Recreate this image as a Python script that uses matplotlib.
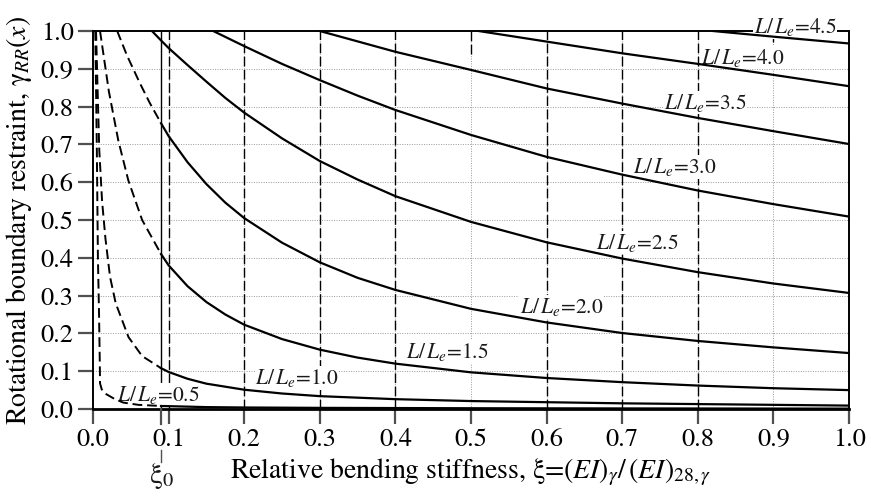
import matplotlib
matplotlib.use("Agg")
import matplotlib.pyplot as plt

# ---- data ----
xi0 = 0.09
ratios = ["0.5", "1.0", "1.5", "2.0", "2.5", "3.0", "3.5", "4.0", "4.5"]

r05_dash_x = [0.003, 0.005, 0.0065, 0.008, 0.009, 0.0093, 0.0115, 0.016, 0.029, 0.040, 0.060, 0.090]
r05_dash_y = [1.00, 0.70, 0.40, 0.25, 0.12, 0.068, 0.052, 0.041, 0.026, 0.017, 0.011, 0.008]
r05_x = [0.09, 0.15, 0.2, 0.3, 0.5, 0.7, 1.0]
r05_y = [0.008, 0.005, 0.004, 0.003, 0.002, 0.0015, 0.001]

r10_dash_x = [0.004, 0.006, 0.0083, 0.012, 0.0165, 0.0225, 0.030, 0.047, 0.065, 0.090]
r10_dash_y = [1.00, 0.85, 0.685, 0.55, 0.45, 0.35, 0.28, 0.19, 0.14, 0.108]
r10_x = [0.09, 0.1, 0.125, 0.15, 0.2, 0.25, 0.3, 0.4, 0.5, 0.6, 0.7, 0.8, 0.9, 1.0]
r10_y = [0.108, 0.098, 0.080, 0.067, 0.051, 0.041, 0.034, 0.026, 0.021, 0.018, 0.015, 0.013, 0.011, 0.009]

r15_dash_x = [0.0093, 0.021, 0.0335, 0.0467, 0.065, 0.09]
r15_dash_y = [1.00, 0.84, 0.71, 0.605, 0.50, 0.41]
r15_x = [0.09, 0.1, 0.125, 0.15, 0.175, 0.2, 0.25, 0.3, 0.35, 0.4, 0.5, 0.6, 0.7, 0.8, 0.9, 1.0]
r15_y = [0.41, 0.38, 0.325, 0.283, 0.250, 0.223, 0.185, 0.157, 0.136, 0.120, 0.097, 0.082, 0.071, 0.062, 0.055, 0.050]

r20_dash_x = [0.032, 0.045, 0.062, 0.075, 0.09]
r20_dash_y = [1.00, 0.935, 0.862, 0.81, 0.756]
r20_x = [0.09, 0.1, 0.125, 0.15, 0.175, 0.2, 0.25, 0.3, 0.35, 0.4, 0.5, 0.6, 0.7, 0.8, 0.9, 1.0]
r20_y = [0.756, 0.722, 0.653, 0.595, 0.546, 0.505, 0.440, 0.388, 0.347, 0.315, 0.265, 0.229, 0.201, 0.180, 0.163, 0.148]

r25_x = [0.078, 0.09, 0.1, 0.125, 0.15, 0.175, 0.2, 0.25, 0.3, 0.35, 0.4, 0.5, 0.6, 0.7, 0.8, 0.9, 1.0]
r25_y = [1.00, 0.975, 0.955, 0.910, 0.866, 0.823, 0.784, 0.716, 0.656, 0.607, 0.563, 0.495, 0.441, 0.398, 0.362, 0.332, 0.307]

r30_x = [0.159, 0.2, 0.25, 0.3, 0.35, 0.4, 0.5, 0.6, 0.7, 0.8, 0.9, 1.0]
r30_y = [1.00, 0.96, 0.913, 0.870, 0.829, 0.791, 0.725, 0.667, 0.620, 0.578, 0.542, 0.509]

r35_x = [0.30, 0.4, 0.5, 0.6, 0.7, 0.8, 0.9, 1.0]
r35_y = [1.00, 0.945, 0.897, 0.848, 0.808, 0.770, 0.735, 0.701]

r40_x = [0.51, 0.6, 0.7, 0.8, 0.9, 1.0]
r40_y = [1.00, 0.972, 0.941, 0.913, 0.884, 0.854]

r45_x = [0.82, 0.9, 1.0]
r45_y = [1.00, 0.985, 0.967]

ticks = [0.0, 0.1, 0.2, 0.3, 0.4, 0.5, 0.6, 0.7, 0.8, 0.9, 1.0]

# ---- style ----
plt.rcParams.update({
    "font.family": "STIXGeneral",
    "mathtext.fontset": "stix",
    "text.color": "#1a1a1a",
})

fig = plt.figure(figsize=(8.71, 5.0), dpi=100, facecolor="white")
ax = fig.add_axes([93 / 871, 1 - 409 / 500, 756 / 871, 378 / 500])
ax.set_xlim(0, 1)
ax.set_ylim(0, 1)

# grid: grey dotted everywhere, black dashed verticals on top
for t in ticks[1:-1]:
    ax.axhline(t, color="#9a9a9a", lw=0.7, ls=(0, (1, 1.5)), zorder=1)
    ax.axvline(t, color="#9a9a9a", lw=0.7, ls=(0, (1, 1.5)), zorder=1)
for t in [0.1, 0.2, 0.3, 0.4, 0.6, 0.7, 0.8]:
    ax.axvline(t, color="black", lw=1.0, ls=(0, (7, 2.5)), zorder=1.5)
ax.axvline(0.5, ymin=0.94, color="black", lw=1.0, ls=(0, (7, 2.5)), zorder=1.5)
ax.axvline(0.9, ymin=0.97, color="black", lw=1.0, ls=(0, (7, 2.5)), zorder=1.5)

# xi_0 line
ax.axvline(xi0, color="black", lw=1.0, zorder=1.6)

solid = [(r05_x, r05_y), (r10_x, r10_y), (r15_x, r15_y), (r20_x, r20_y),
         (r25_x, r25_y), (r30_x, r30_y), (r35_x, r35_y), (r40_x, r40_y), (r45_x, r45_y)]
dashed = [(r05_dash_x, r05_dash_y), (r10_dash_x, r10_dash_y),
          (r15_dash_x, r15_dash_y), (r20_dash_x, r20_dash_y)]

for xs, ys in solid:
    ax.plot(xs, ys, color="black", lw=1.6, zorder=3, solid_joinstyle="round")
for xs, ys in dashed:
    ax.plot(xs, ys, color="black", lw=1.4, ls=(0, (5, 2.5)), zorder=3)

# curve labels
label_pos = [(0.087, 0.037), (0.27, 0.082), (0.468, 0.151), (0.62, 0.27), (0.72, 0.44),
             (0.77, 0.64), (0.81, 0.81), (0.86, 0.929), (0.929, 1.01)]
for r, (lx, ly) in zip(ratios, label_pos):
    ax.text(lx, ly, r"$L/\,L_e$=" + r, fontsize=15.5, ha="center", va="center", zorder=2.8,
            clip_on=False,
            bbox=dict(facecolor="white", edgecolor="none", pad=0.5))

# axes / ticks
for s in ax.spines.values():
    s.set_linewidth(1.4)
    s.set_color("black")
ax.spines["bottom"].set_linewidth(2.0)
ax.set_xticks(ticks)
ax.set_yticks(ticks)
ax.set_xticklabels([f"{t:.1f}" for t in ticks])
ax.set_yticklabels([f"{t:.1f}" for t in ticks])
ax.tick_params(direction="out", length=11, width=1.6, color="#505050", labelsize=19, pad=3)

ax.set_xlabel(r"Relative bending stiffness, ξ=$(EI)_{\gamma}/\,(EI)_{28,\gamma}$", fontsize=20, labelpad=3)
ax.set_ylabel(r"Rotational boundary restraint, γ$_{RR}(x)$", fontsize=20, labelpad=5)

# xi_0 marker below the axis
ax.plot([xi0, xi0], [0, -0.04], color="#505050", lw=1.6, clip_on=False, zorder=3)
ax.plot([xi0, xi0], [-0.108, -0.140], color="#505050", lw=1.0, clip_on=False, zorder=3)
ax.text(xi0, -0.178, r"ξ$_0$", fontsize=21, ha="center", va="center", clip_on=False)

fig.savefig("out.png", dpi=100, facecolor="white")
